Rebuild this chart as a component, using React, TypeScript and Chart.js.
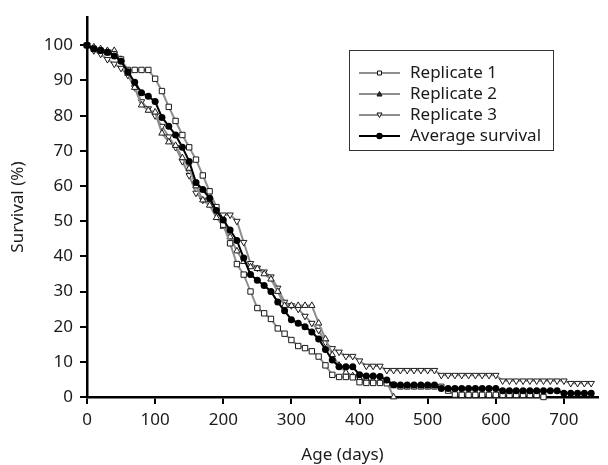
import React, { useEffect, useRef } from 'react';
import { Chart, registerables } from 'chart.js';

Chart.register(...registerables);

const days = [
  0, 10, 20, 30, 40, 50, 60, 70, 80, 90,
  100, 110, 120, 130, 140, 150, 160, 170, 180, 190,
  200, 210, 220, 230, 240, 250, 260, 270, 280, 290,
  300, 310, 320, 330, 340, 350, 360, 370, 380, 390,
  400, 410, 420, 430, 440, 450, 460, 470, 480, 490,
  500, 510, 520, 530, 540, 550, 560, 570, 580, 590,
  600, 610, 620, 630, 640, 650, 660, 670, 680, 690,
  700, 710, 720, 730, 740,
];

const replicate1 = [
  100, 99, 98.5, 98, 97.5, 96, 93, 93, 93, 93,
  90.5, 87, 82.5, 78.5, 74.5, 71, 67.5, 63, 58.5, 54,
  49, 43.7, 37.8, 34.8, 30, 25.3, 23.8, 22.2, 19.5, 18,
  16.2, 14.5, 13.9, 13, 11.5, 9, 6.3, 5.7, 5.7, 5.6,
  4.2, 4, 4, 4, 3.9, 3.4, 3, 3, 3, 3,
  3, 3, 2.9, 1.8, 0.7, 0.6, 0.6, 0.6, 0.6, 0.6,
  0.6, 0.6, 0.6, 0.6, 0.6, 0.6, 0.6, 0,
];

const replicate2 = [
  100, 99.5, 99, 98.5, 98.5, 96, 92, 88, 83, 81.5,
  81, 75, 72.5, 71.5, 68, 65, 60, 56, 54.5, 51,
  48.5, 45.5, 41.5, 38.5, 37, 36.5, 35, 33.5, 30, 26,
  26, 26, 26, 26, 21, 16.5, 12, 9, 7, 6,
  5.2, 5, 4.6, 4.3, 4.3, 0,
];

const replicate3 = [
  100, 98.5, 97.5, 96, 94.7, 93.5, 91.5, 88, 84, 82,
  80, 77, 74, 71, 67, 63, 58, 56, 55, 52,
  51.8, 51.8, 50, 44, 38, 36.7, 35.6, 34.2, 31, 27,
  26, 25, 23, 21, 19, 15.5, 13.8, 12.8, 11.6, 11.6,
  10.3, 8.8, 8.8, 8.8, 7.6, 7.6, 7.6, 7.6, 7.6, 7.6,
  7.6, 7.6, 6.2, 6.2, 6.2, 6.2, 6.2, 6.2, 6.2, 6.2,
  6.2, 4.6, 4.6, 4.6, 4.6, 4.6, 4.6, 4.6, 4.6, 4.6,
  4.6, 3.9, 3.9, 3.9, 3.9,
];

const averageSurvival = [
  100, 99, 98.5, 98, 97, 95.5, 92.5, 89.5, 86.5, 85.5,
  84, 79.5, 77, 74.5, 71, 67, 61, 59, 56.5, 53,
  50.3, 47.5, 44.5, 39.5, 34.8, 33.2, 31.7, 30, 27, 24.5,
  22, 21, 20, 18.5, 16.5, 13.5, 10.5, 8.6, 8.6, 8.6,
  6.3, 6, 6, 5.8, 4.8, 3.5, 3.4, 3.4, 3.4, 3.4,
  3.4, 3.4, 2.4, 2.4, 2.4, 2.4, 2.4, 2.4, 2.4, 2.4,
  2.4, 1.8, 1.8, 1.8, 1.8, 1.8, 1.8, 1.8, 1.8, 1.8,
  1.1, 1.1, 1.1, 1.1, 1.1,
];

const seriesLabels = ['Replicate 1', 'Replicate 2', 'Replicate 3', 'Average survival'];
const xTickValues = [0, 100, 200, 300, 400, 500, 600, 700];
const yTickValues = [0, 10, 20, 30, 40, 50, 60, 70, 80, 90, 100];

const FONT = '"Noto Sans", "Liberation Sans", Arial, sans-serif';
const GRAY = '#8e8e8e';
const TEXT = '#1a1a1a';

const toPoints = (vals: number[]) => vals.map((v, i) => ({ x: days[i], y: v }));

type Marker = 'rect' | 'triUp' | 'triDown' | 'circle';
const legendMarkers: Marker[] = ['rect', 'triUp', 'triDown', 'circle'];

const legendPlugin = {
  id: 'boxLegend',
  afterDraw(chart: any) {
    const ctx = chart.ctx as CanvasRenderingContext2D;
    const bx = 349.5, by = 50.5, bw = 204, bh = 100;
    ctx.save();
    ctx.fillStyle = '#ffffff';
    ctx.fillRect(bx, by, bw, bh);
    ctx.strokeStyle = '#333333';
    ctx.lineWidth = 1;
    ctx.strokeRect(bx, by, bw, bh);
    const rows = [73, 94, 115, 136];
    seriesLabels.forEach((label, i) => {
      const y = rows[i];
      const isAvg = i === 3;
      ctx.strokeStyle = isAvg ? '#000' : GRAY;
      ctx.lineWidth = 2;
      ctx.beginPath();
      ctx.moveTo(359, y);
      ctx.lineTo(400, y);
      ctx.stroke();
      const mx = 379.5;
      const m = legendMarkers[i];
      ctx.lineWidth = 1;
      ctx.strokeStyle = '#111';
      ctx.fillStyle = '#fff';
      ctx.beginPath();
      if (m === 'rect') {
        ctx.rect(mx - 2, y - 2, 4, 4);
        ctx.fill();
        ctx.stroke();
      } else if (m === 'triUp') {
        ctx.moveTo(mx, y - 2.5);
        ctx.lineTo(mx + 2.5, y + 2);
        ctx.lineTo(mx - 2.5, y + 2);
        ctx.closePath();
        ctx.fillStyle = '#333';
        ctx.fill();
        ctx.stroke();
      } else if (m === 'triDown') {
        ctx.moveTo(mx, y + 2.5);
        ctx.lineTo(mx + 2.5, y - 2);
        ctx.lineTo(mx - 2.5, y - 2);
        ctx.closePath();
        ctx.fill();
        ctx.stroke();
      } else {
        ctx.arc(mx, y, 3.2, 0, Math.PI * 2);
        ctx.fillStyle = '#000';
        ctx.fill();
      }
      ctx.fillStyle = TEXT;
      ctx.font = `17px ${FONT}`;
      ctx.textBaseline = 'middle';
      ctx.textAlign = 'left';
      ctx.fillText(label, 410, y);
    });
    ctx.restore();
  },
};

export default function App() {
  const canvasRef = useRef<HTMLCanvasElement | null>(null);

  useEffect(() => {
    if (!canvasRef.current) return;
    const replicateStyle = (pointStyle: any, rotation: number, radius: number) => ({
      borderColor: GRAY,
      borderWidth: 2,
      pointStyle,
      rotation,
      pointRadius: radius,
      pointBackgroundColor: '#ffffff',
      pointBorderColor: '#1a1a1a',
      pointBorderWidth: 1,
      tension: 0,
      fill: false,
      clip: false as any,
    });

    const chart = new Chart(canvasRef.current, {
      type: 'line',
      data: {
        datasets: [
          {
            label: seriesLabels[3],
            data: toPoints(averageSurvival),
            borderColor: '#000000',
            borderWidth: 2,
            pointStyle: 'circle',
            pointRadius: 3.5,
            pointBackgroundColor: '#000000',
            pointBorderColor: '#000000',
            pointBorderWidth: 0,
            tension: 0,
            fill: false,
            clip: false as any,
            order: 0,
          },
          { label: seriesLabels[0], data: toPoints(replicate1), ...replicateStyle('rect', 0, 3.8), order: 1 },
          { label: seriesLabels[1], data: toPoints(replicate2), ...replicateStyle('triangle', 0, 3.7), order: 2 },
          { label: seriesLabels[2], data: toPoints(replicate3), ...replicateStyle('triangle', 180, 3.7), order: 3 },
        ],
      },
      options: {
        responsive: false,
        animation: false,
        devicePixelRatio: 1,
        layout: { padding: { top: 15, right: 10, left: 0, bottom: 0 } },
        plugins: {
          legend: { display: false },
          tooltip: { enabled: false },
        },
        scales: {
          x: {
            type: 'linear',
            min: 0,
            max: 750,
            afterBuildTicks: (scale: any) => {
              scale.ticks = xTickValues.map((v) => ({ value: v }));
            },
            afterFit: (scale: any) => {
              scale.height = 68;
            },
            grid: { drawOnChartArea: false, drawTicks: true, tickLength: 7, color: '#000', lineWidth: 2 },
            border: { display: true, color: '#000', width: 2.5 },
            ticks: { color: TEXT, font: { family: FONT, size: 17 }, padding: 6, maxRotation: 0 },
            title: {
              display: true,
              text: 'Age (days)',
              color: TEXT,
              font: { family: FONT, size: 17 },
              padding: { top: 4, bottom: 0 },
            },
          },
          y: {
            type: 'linear',
            min: 0,
            max: 108,
            afterBuildTicks: (scale: any) => {
              scale.ticks = yTickValues.map((v) => ({ value: v }));
            },
            afterFit: (scale: any) => {
              scale.width = 87;
            },
            grid: { drawOnChartArea: false, drawTicks: true, tickLength: 7, color: '#000', lineWidth: 2 },
            border: { display: true, color: '#000', width: 2.5 },
            ticks: { color: TEXT, font: { family: FONT, size: 17 }, padding: 7 },
            title: {
              display: true,
              text: 'Survival (%)',
              color: TEXT,
              font: { family: FONT, size: 17 },
              padding: { top: 8, bottom: 4 },
            },
          },
        },
      },
      plugins: [legendPlugin],
    });
    return () => chart.destroy();
  }, []);

  return (
    <div style={{ position: 'absolute', left: 0, top: 0, width: 608, height: 465, background: '#fff' }}>
      <canvas ref={canvasRef} width={608} height={465} style={{ display: 'block', width: 608, height: 465 }} />
    </div>
  );
}
